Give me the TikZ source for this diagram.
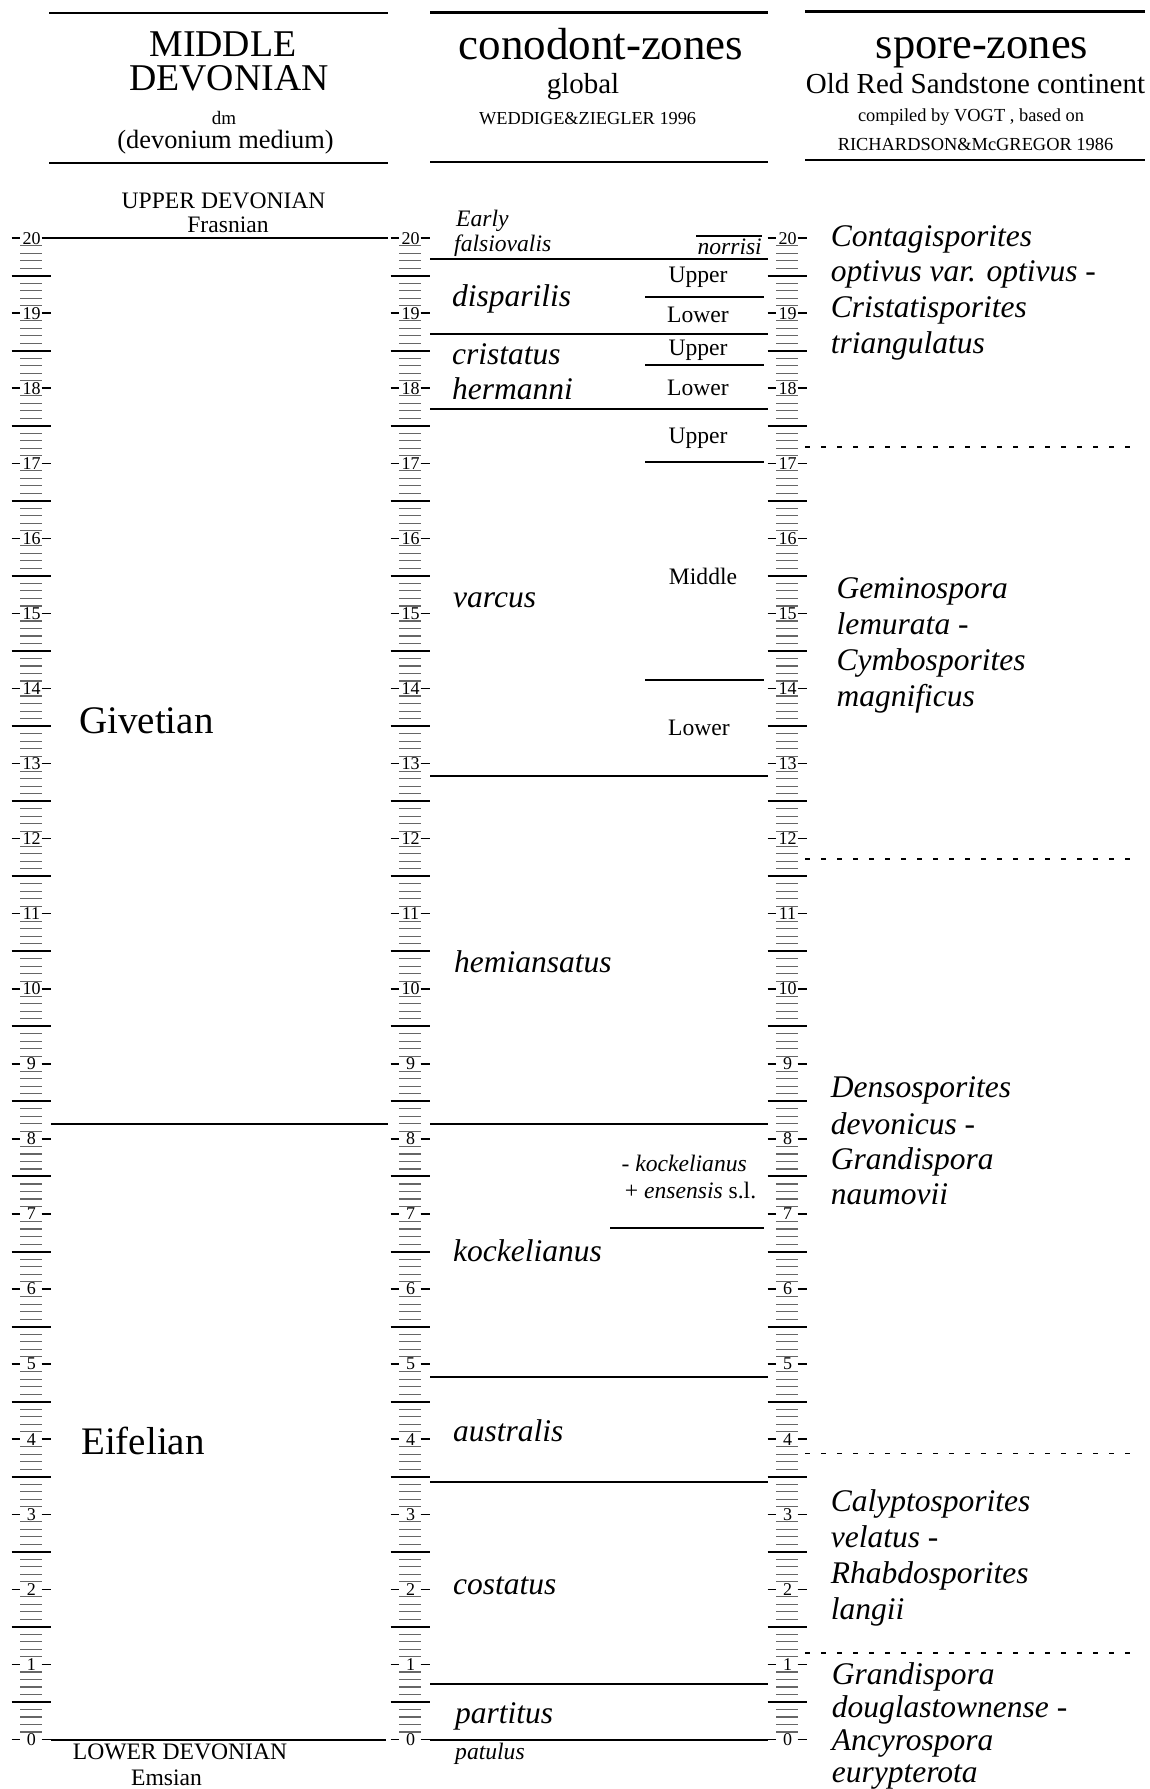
\documentclass[tikz,border=0pt]{standalone}
\usepackage{fontspec}
\setmainfont{Liberation Serif}
\newcommand\fs[1]{\fontsize{#1}{#1}\selectfont}
\newcommand\drawruler[2]{%
  \foreach \n in {0,...,20}{%
    \pgfmathsetmacro\yy{1739.5-75.07*\n}%
    \node[num] (#2\n) at (#1+0.5,\yy) {\n};
    \draw[tickd] (#1-19.5,\yy) -- (#1-11,\yy);
    \draw[tickd] (#1+10.5,\yy) -- (#1+20,\yy);
  }%
  \foreach \n in {0,...,19}{%
    \foreach \k in {1,2,3,4,6,7,8,9}{%
      \pgfmathsetmacro\yy{1739.5-75.07*(\n+\k/10)}%
      \draw[tickm] (#1-11,\yy) -- (#1+11,\yy);
    }%
    \pgfmathsetmacro\yy{1739.5-75.07*(\n+0.5)}%
    \draw[tickl] (#1-19.5,\yy) -- (#1+19.5,\yy);
  }%
}
\tikzset{
  hline/.style={line width=2pt},
  headline/.style={line width=2.4pt},
  subline/.style={line width=1.8pt},
  tickm/.style={line width=1.1pt, black!60},
  tickl/.style={line width=2pt},
  tickd/.style={line width=1.5pt},
  num/.style={font=\fs{18}, inner sep=0pt, anchor=center},
  zone/.style={font=\fs{31.5}\itshape, anchor=base west, inner sep=0pt},
  spore/.style={font=\fs{31.5}\itshape, anchor=base west, inner sep=0pt, align=left},
  sub/.style={font=\fs{23.6}, anchor=base, inner sep=0pt},
  subi/.style={font=\fs{23.6}\itshape, anchor=base west, inner sep=0pt},
  txt/.style={anchor=base, inner sep=0pt},
  dots/.style={line width=1.6pt, dash pattern=on 4.5pt off 11.5pt},
}
\begin{document}
\begin{tikzpicture}[x=1pt,y=-1pt]
\useasboundingbox (0,0) rectangle (1150,1789);
\fill[white] (0,0) rectangle (1150,1789);
% ---------- header ----------
\draw[headline] (49,13) -- (388,13);
\draw[headline] (49,163) -- (388,163);
\draw[headline] (430,12.5) -- (768,12.5);
\draw[headline] (430,162) -- (768,162);
\draw[headline] (805,11.5) -- (1145,11.5);
\draw[headline] (805,160) -- (1145,160);
\node[txt,font=\fs{37.8}] (h1a) at (223,56) {MIDDLE};
\node[txt,font=\fs{37.8}] (h1b) at (229,90.7) {DEVONIAN};
\node[txt,font=\fs{19}] (h1c) at (224,124) {dm};
\node[txt,font=\fs{26.4}] (h1d) at (225.5,148.5) {(devonium medium)};
\node[txt,font=\fs{45}] (h2a) at (601,59) {conodont-zones};
\node[txt,font=\fs{29}] (h2b) at (583,93) {global};
\node[txt,font=\fs{18.3}] (h2c) at (587.6,124.7) {WEDDIGE\&ZIEGLER 1996};
\node[txt,font=\fs{44.5}] (h3a) at (982,58) {spore-zones};
\node[txt,font=\fs{29}] (h3b) at (975.5,93.2) {Old Red Sandstone continent};
\node[txt,font=\fs{18.4}] (h3c) at (971,121.5) {compiled by VOGT , based on};
\node[txt,font=\fs{18.4}] (h3d) at (975.5,150) {RICHARDSON\&McGREGOR 1986};
% ---------- rulers ----------
\drawruler{31}{L}
\drawruler{410}{M}
\drawruler{787}{R}
% ---------- left column ----------
\node[txt,font=\fs{23.6}] (ud) at (223.6,208.6) {UPPER DEVONIAN};
\node[txt,font=\fs{23.6}] (fr) at (228,232) {Frasnian};
\coordinate (lt0) at (51,238);
\coordinate (lt1) at (388,238);
\coordinate (lm0) at (51,1124);
\coordinate (lm1) at (388,1124);
\coordinate (lb0) at (51,1739.5);
\coordinate (lb1) at (386,1739.5);
\draw[hline] (lt0) -- (lt1);
\draw[hline] (lm0) -- (lm1);
\draw[hline] (lb0) -- (lb1);
\node[anchor=base west,inner sep=0pt,font=\fs{39}] (giv) at (79,733) {Givetian};
\node[anchor=base west,inner sep=0pt,font=\fs{39}] (eif) at (81,1454) {Eifelian};
\node[txt,font=\fs{23.6}] (ld) at (180,1759) {LOWER DEVONIAN};
\node[txt,font=\fs{23.6}] (em) at (166.6,1785) {Emsian};
% ---------- middle column ----------
\foreach \yy [count=\i] in {259,334,408.5,776,1124,1377,1482,1684,1739.5}{
  \coordinate (ma\i) at (430,\yy);
  \coordinate (mb\i) at (768,\yy);
  \draw[hline] (ma\i) -- (mb\i);
}
\foreach \yy [count=\i] in {296.6,365,462,680}{
  \coordinate (sa\i) at (645,\yy);
  \coordinate (sb\i) at (764,\yy);
  \draw[subline] (sa\i) -- (sb\i);
}
\coordinate (ka) at (610,1228);
\coordinate (kb) at (764,1228);
\draw[subline] (ka) -- (kb);
\coordinate (na) at (696,236);
\coordinate (nb) at (762,236);
\draw[subline] (na) -- (nb);
\node[subi] (early) at (456,226) {Early};
\node[subi] (fals) at (454,251) {falsiovalis};
\node[font=\fs{23.6}\itshape, anchor=base east, inner sep=0pt] (norr) at (762,254) {norrisi};
\node[zone] (disp) at (452,306.5) {disparilis};
\node[zone] (cris) at (452,364) {cristatus};
\node[zone] (herm) at (452,399.2) {hermanni};
\node[zone] (varc) at (453,607.3) {varcus};
\node[zone] (hemi) at (454,972.2) {hemiansatus};
\node[zone] (kock) at (453,1261.2) {kockelianus};
\node[zone] (aust) at (453,1441.2) {australis};
\node[zone] (cost) at (453,1594.2) {costatus};
\node[zone] (part) at (455,1723) {partitus};
\node[subi] (patu) at (455,1759.3) {patulus};
\node[sub] (u1) at (698,282) {Upper};
\node[sub] (l1) at (698,322) {Lower};
\node[sub] (u2) at (698,355) {Upper};
\node[sub] (l2) at (698,395) {Lower};
\node[sub] (u3) at (698,443.5) {Upper};
\node[sub] (mi3) at (703,584) {Middle};
\node[sub] (l3) at (699,735) {Lower};
\node[font=\fs{23.6}, anchor=base east, inner sep=0pt] (kk1) at (747,1171) {- \textit{kockelianus}};
\node[font=\fs{23.6}, anchor=base east, inner sep=0pt] (kk2) at (756.4,1198) {+ \textit{ensensis} s.l.};
% ---------- right column ----------
\foreach \yy [count=\i] in {447,859,1453.5,1653}{
  \coordinate (da\i) at (805,\yy);
  \coordinate (db\i) at (1141,\yy);
  \draw[dots] (da\i) -- (db\i);
}
\node[spore] (sp1a) at (830.6,246) {Contagisporites};
\node[spore] (sp1b) at (830.6,281.6) {optivus var. optivus -};
\node[spore] (sp1c) at (830.6,317) {Cristatisporites};
\node[spore] (sp1d) at (830.6,353) {triangulatus};
\node[spore] (sp2a) at (836.3,598.7) {Geminospora};
\node[spore] (sp2b) at (836.3,634) {lemurata -};
\node[spore] (sp2c) at (836.3,670.6) {Cymbosporites};
\node[spore] (sp2d) at (836.3,706) {magnificus};
\node[spore] (sp3a) at (830.6,1097) {Densosporites};
\node[spore] (sp3b) at (830.6,1134) {devonicus -};
\node[spore] (sp3c) at (830.6,1169) {Grandispora};
\node[spore] (sp3d) at (830.6,1204.5) {naumovii};
\node[spore] (sp4a) at (830.6,1511) {Calyptosporites};
\node[spore] (sp4b) at (830.6,1547) {velatus -};
\node[spore] (sp4c) at (830.6,1583) {Rhabdosporites};
\node[spore] (sp4d) at (830.6,1619) {langii};
\node[spore] (sp5a) at (831.7,1684) {Grandispora};
\node[spore] (sp5b) at (831.7,1717) {douglastownense -};
\node[spore] (sp5c) at (831.7,1750) {Ancyrospora};
\node[spore] (sp5d) at (831.7,1782) {eurypterota};
\end{tikzpicture}
\end{document}
